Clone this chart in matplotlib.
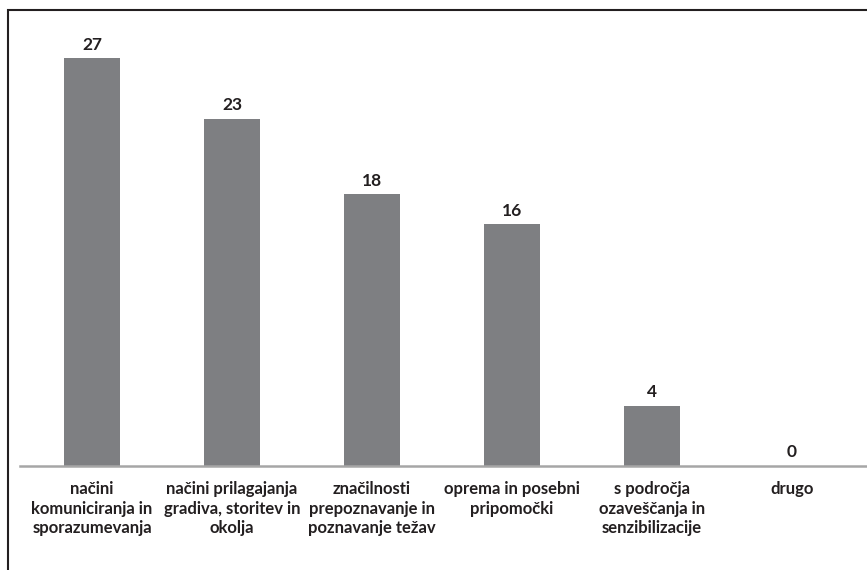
import matplotlib.pyplot as plt
from matplotlib.patches import Rectangle

categories = [
    "načini\nkomuniciranja in\nsporazumevanja",
    "načini prilagajanja\ngradiva, storitev in\nokolja",
    "značilnosti\nprepoznavanje in\npoznavanje težav",
    "oprema in posebni\npripomočki",
    "s področja\nozaveščanja in\nsenzibilizacije",
    "drugo",
]
values = [27, 23, 18, 16, 4, 0]

plt.rcParams["font.family"] = ["Lato", "DejaVu Sans"]

fig = plt.figure(figsize=(8.67, 5.70), dpi=100)
ax = fig.add_axes([20 / 867, 104 / 570, 847 / 867, 456 / 570])

x = range(len(values))
ax.bar(x, values, width=0.4, color="#7e7f82")

for i, v in zip(x, values):
    ax.annotate(
        str(v),
        (i, v),
        textcoords="offset points",
        xytext=(0, 4),
        ha="center",
        va="bottom",
        fontsize=12.5,
        fontweight="bold",
        color="#231f20",
    )

# category slots are 140 px wide, first centre at x=92
ax.set_xlim(-0.5 - 2 / 140, 5.5 + 5 / 140)
ax.set_ylim(0, 456 / 15.1)
ax.set_yticks([])
ax.set_xticks(list(x))
ax.set_xticklabels(categories, fontsize=12, fontweight="bold", color="#231f20",
                   linespacing=1.25)
ax.tick_params(axis="x", length=0, pad=11)

for s in ["top", "right", "left"]:
    ax.spines[s].set_visible(False)
ax.spines["bottom"].set_color("#a6a6a6")
ax.spines["bottom"].set_linewidth(1.8)

# outer frame, open to the right and bottom
fig.patches.append(
    Rectangle((8 / 867, -0.1), 1.0, (560 / 570) + 0.1,
              transform=fig.transFigure, fill=False,
              edgecolor="#231f20", linewidth=1.5)
)

fig.savefig("out.png", dpi=100)
